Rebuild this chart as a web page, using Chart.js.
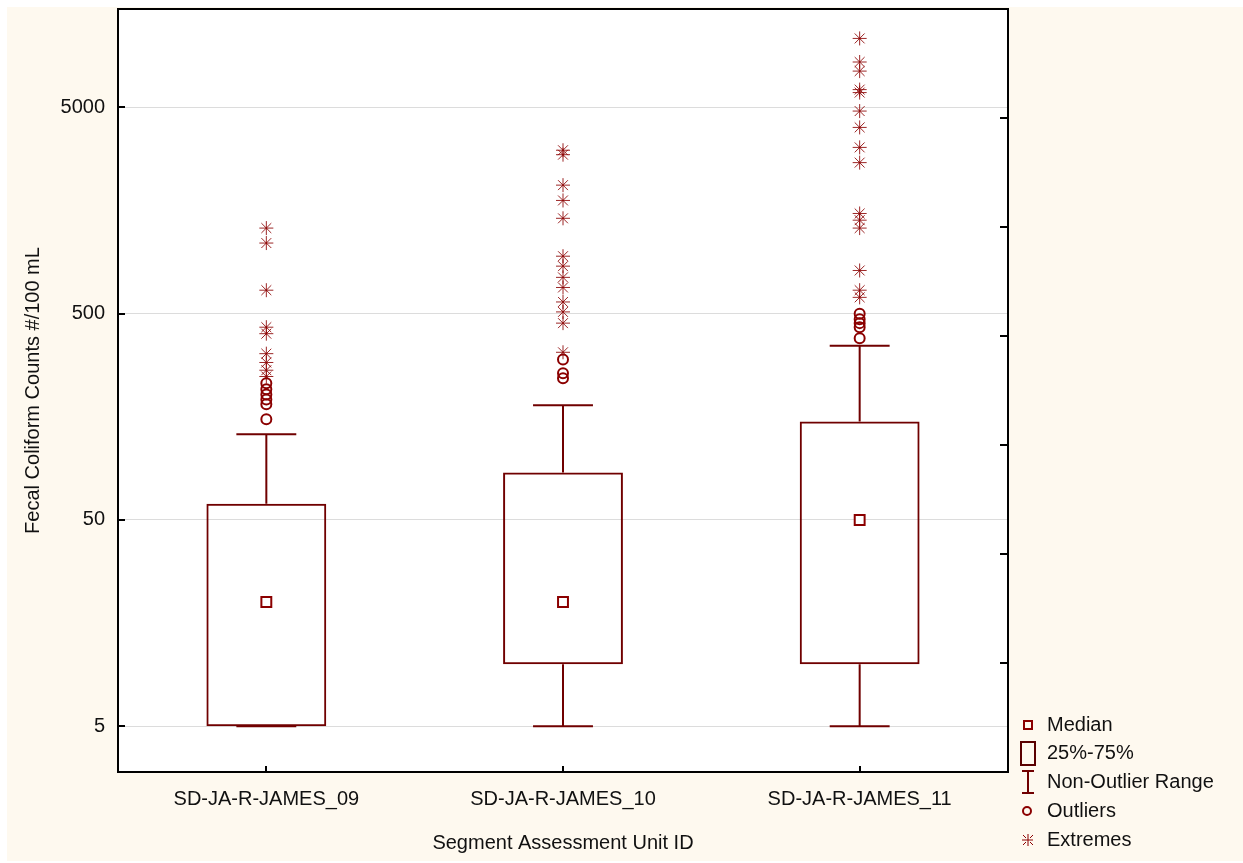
<!DOCTYPE html>
<html>
<head>
<meta charset="utf-8">
<script src="https://cdn.jsdelivr.net/npm/chart.js@4"></script>
<style>
  body { margin: 0; background: #fff; }
  canvas { display: block; }
</style>
</head>
<body>
<canvas id="boxChart" width="1243" height="863"></canvas>
<script>
// Data
const categories = ['SD-JA-R-JAMES_09', 'SD-JA-R-JAMES_10', 'SD-JA-R-JAMES_11'];
const medians = [20, 20, 50];
const q1 = [5, 10, 10];
const q3 = [60, 85, 150];
const whiskerLow = [5, 5, 5];
const whiskerHigh = [130, 180, 350];

const outliers09 = [230, 215, 203, 192, 182, 154];
const outliers10 = [300, 257, 243];
const outliers11 = [500, 470, 450, 430, 380];

const extremes09 = [1300, 1100, 650, 430, 400, 320, 290, 266, 248];
const extremes10 = [3100, 2950, 2100, 1770, 1450, 950, 850, 750, 670, 570, 510, 450, 325];
const extremes11 = [10800, 8300, 7500, 6100, 5900, 4800, 4000, 3200, 2700, 1530, 1420, 1300, 810, 650, 600];

const yTicks = [5, 50, 500, 5000];
const rightTicks = [0, 1, 2, 3, 4, 5, 6, 7];
const legendLabels = ['Median', '25%-75%', 'Non-Outlier Range', 'Outliers', 'Extremes'];

const RED = '#8b0000';
const BOX = '#700000';
const FONT = 'Liberation Sans, Arial, sans-serif';

function points(cat, values) {
    return values.map(v => ({ x: cat, y: v }));
}

const outlierPts = [].concat(
    points(categories[0], outliers09),
    points(categories[1], outliers10),
    points(categories[2], outliers11)
);
const extremePts = [].concat(
    points(categories[0], extremes09),
    points(categories[1], extremes10),
    points(categories[2], extremes11)
);
const medianPts = categories.map((c, i) => ({ x: c, y: medians[i] }));

// background, plot area, whiskers, inner ticks, frame, legend
const decorations = {
    id: 'decorations',
    beforeDraw(chart) {
        const ctx = chart.ctx;
        const a = chart.chartArea;
        ctx.save();
        ctx.fillStyle = '#fef9ef';
        ctx.fillRect(7, 7, chart.width - 7, chart.height - 9);
        ctx.fillStyle = '#ffffff';
        ctx.fillRect(a.left, a.top, a.right - a.left, a.bottom - a.top);
        ctx.restore();
    },
    beforeDatasetsDraw(chart) {
        const ctx = chart.ctx;
        const xs = chart.scales.x;
        const ys = chart.scales.y;
        const bars = chart.getDatasetMeta(0).data;
        ctx.save();
        ctx.strokeStyle = BOX;
        ctx.lineWidth = 2;
        categories.forEach((c, i) => {
            const x = xs.getPixelForValue(i);
            const half = bars[i].width / 4;
            const yHi = ys.getPixelForValue(whiskerHigh[i]);
            const yQ3 = ys.getPixelForValue(q3[i]);
            const yLo = ys.getPixelForValue(whiskerLow[i]);
            const yQ1 = ys.getPixelForValue(q1[i]);
            ctx.beginPath();
            ctx.moveTo(x, yQ3); ctx.lineTo(x, yHi);
            ctx.moveTo(x - half, yHi); ctx.lineTo(x + half, yHi);
            ctx.moveTo(x, yQ1); ctx.lineTo(x, yLo);
            ctx.moveTo(x - half, yLo); ctx.lineTo(x + half, yLo);
            ctx.stroke();
        });
        ctx.restore();
    },
    afterDraw(chart) {
        const ctx = chart.ctx;
        const a = chart.chartArea;
        const xs = chart.scales.x;
        const ys = chart.scales.y;
        const y2 = chart.scales.y2;
        ctx.save();
        ctx.strokeStyle = '#000';
        ctx.lineWidth = 2;
        ctx.beginPath();
        yTicks.forEach(v => {
            const y = Math.round(ys.getPixelForValue(v));
            ctx.moveTo(a.left, y); ctx.lineTo(a.left + 7, y);
        });
        rightTicks.forEach(v => {
            const y = Math.round(y2.getPixelForValue(v));
            ctx.moveTo(a.right - 8, y); ctx.lineTo(a.right, y);
        });
        categories.forEach((c, i) => {
            const x = Math.round(xs.getPixelForValue(i));
            ctx.moveTo(x, a.bottom); ctx.lineTo(x, a.bottom - 6);
        });
        ctx.stroke();
        ctx.strokeRect(a.left, a.top, a.right - a.left, a.bottom - a.top);

        // legend
        const lx = 1028;
        const tx = 1047;
        const rows = [725, 753, 782, 811, 840];
        ctx.lineWidth = 2;
        ctx.strokeStyle = RED;
        ctx.strokeRect(lx - 4, rows[0] - 4, 8, 8);
        ctx.strokeStyle = '#5a0000';
        ctx.strokeRect(lx - 7, rows[1] - 11, 14, 23);
        ctx.strokeStyle = BOX;
        ctx.beginPath();
        ctx.moveTo(lx - 6, rows[2] - 11); ctx.lineTo(lx + 6, rows[2] - 11);
        ctx.moveTo(lx, rows[2] - 11); ctx.lineTo(lx, rows[2] + 11);
        ctx.moveTo(lx - 6, rows[2] + 11); ctx.lineTo(lx + 6, rows[2] + 11);
        ctx.stroke();
        ctx.strokeStyle = RED;
        ctx.beginPath();
        ctx.arc(lx - 1, rows[3], 4, 0, Math.PI * 2);
        ctx.stroke();
        ctx.lineWidth = 1;
        ctx.beginPath();
        ctx.moveTo(lx - 6, rows[4]); ctx.lineTo(lx + 5, rows[4]);
        ctx.moveTo(lx, rows[4] - 6); ctx.lineTo(lx, rows[4] + 6);
        ctx.moveTo(lx - 5, rows[4] - 5); ctx.lineTo(lx - 2, rows[4] - 2);
        ctx.moveTo(lx + 5, rows[4] - 5); ctx.lineTo(lx + 2, rows[4] - 2);
        ctx.moveTo(lx - 5, rows[4] + 5); ctx.lineTo(lx - 2, rows[4] + 2);
        ctx.moveTo(lx + 5, rows[4] + 5); ctx.lineTo(lx + 2, rows[4] + 2);
        ctx.stroke();

        ctx.fillStyle = '#111';
        ctx.font = '20px ' + FONT;
        ctx.textBaseline = 'middle';
        ctx.textAlign = 'left';
        legendLabels.forEach((t, i) => ctx.fillText(t, tx, rows[i]));
        ctx.restore();
    }
};

const ctx = document.getElementById('boxChart').getContext('2d');
new Chart(ctx, {
    type: 'bar',
    data: {
        labels: categories,
        datasets: [
            {
                label: '25%-75%',
                data: categories.map((c, i) => [q1[i], q3[i]]),
                backgroundColor: 'rgba(255,255,255,0)',
                borderColor: BOX,
                borderWidth: 2,
                borderSkipped: false,
                barPercentage: 0.404,
                categoryPercentage: 1,
                order: 3
            },
            {
                type: 'line',
                label: 'Median',
                data: medianPts,
                showLine: false,
                pointStyle: 'rect',
                pointRadius: 7,
                pointBorderWidth: 2,
                pointBorderColor: RED,
                pointBackgroundColor: '#fff',
                order: 0
            },
            {
                type: 'line',
                label: 'Outliers',
                data: outlierPts,
                showLine: false,
                pointStyle: 'circle',
                pointRadius: 5,
                pointBorderWidth: 2,
                pointBorderColor: RED,
                pointBackgroundColor: 'rgba(255,255,255,0)',
                order: 1
            },
            {
                type: 'line',
                label: 'Extremes',
                data: extremePts,
                showLine: false,
                pointStyle: 'star',
                pointRadius: 7,
                pointBorderWidth: 1,
                pointBorderColor: 'rgba(139,0,0,0.85)',
                order: 2
            }
        ]
    },
    options: {
        responsive: false,
        animation: false,
        layout: { padding: { left: 0, top: 8, right: 235, bottom: 0 } },
        plugins: {
            legend: { display: false },
            tooltip: { enabled: false }
        },
        scales: {
            x: {
                type: 'category',
                offset: true,
                grid: { display: false, drawTicks: false },
                border: { display: false },
                ticks: {
                    color: '#111',
                    font: { family: FONT, size: 20 },
                    padding: 15,
                    maxRotation: 0
                },
                title: {
                    display: true,
                    text: 'Segment Assessment Unit ID',
                    color: '#111',
                    font: { family: FONT, size: 20 },
                    padding: { top: 0, bottom: 8 }
                },
                afterFit: s => { s.height = 91; s.paddingLeft = 0; s.paddingRight = 0; }
            },
            y: {
                type: 'logarithmic',
                min: 3,
                max: 15000,
                afterBuildTicks: s => { s.ticks = yTicks.map(v => ({ value: v })); },
                grid: { color: '#dcdcdc', lineWidth: 1, drawTicks: false },
                border: { display: false },
                ticks: {
                    color: '#111',
                    font: { family: FONT, size: 20 },
                    padding: 13,
                    callback: v => String(v)
                },
                title: {
                    display: true,
                    text: 'Fecal Coliform Counts #/100 mL',
                    color: '#111',
                    font: { family: FONT, size: 20 },
                    padding: { top: 21, bottom: 0 }
                },
                afterFit: s => { s.width = 118; s.paddingTop = 0; s.paddingBottom = 0; }
            },
            y2: {
                type: 'linear',
                position: 'right',
                display: false,
                min: 0,
                max: 7,
                afterBuildTicks: s => { s.ticks = rightTicks.map(v => ({ value: v })); }
            }
        }
    },
    plugins: [decorations]
});
</script>
</body>
</html>
